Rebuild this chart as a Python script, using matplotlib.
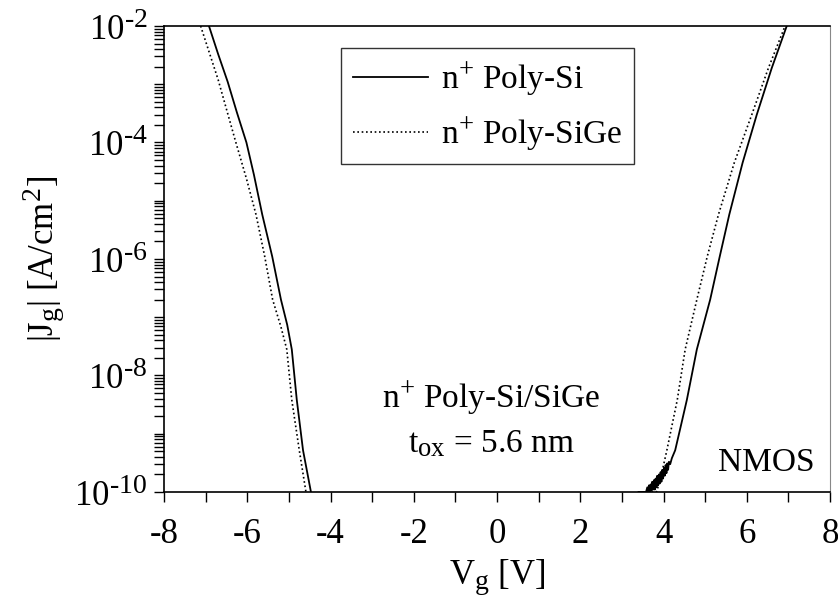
import math
import matplotlib
matplotlib.use('Agg')
import matplotlib.pyplot as plt
import matplotlib._mathtext as mathtext_impl
from matplotlib.ticker import LogLocator, FixedLocator, FuncFormatter, NullFormatter

plt.rcParams['font.family'] = 'Liberation Serif'
plt.rcParams['mathtext.fontset'] = 'custom'
plt.rcParams['mathtext.rm'] = 'Liberation Serif'
plt.rcParams['mathtext.it'] = 'Liberation Serif:italic'
plt.rcParams['mathtext.default'] = 'rm'
# larger super/subscripts than the mathtext default
mathtext_impl.SHRINK_FACTOR = 0.8

# gate voltage [V] and gate current density [A/cm^2]
# n+ poly-Si gate, negative bias branch
vg_si_neg = [-6.92, -6.70, -6.47, -6.25, -6.02, -5.84, -5.64, -5.40, -5.19, -5.04,
             -4.93, -4.81, -4.66, -4.47]
jg_si_neg = [1e-2, 3.3e-3, 1.1e-3, 3.3e-4, 1.0e-4, 2.8e-5, 5.8e-6, 1.1e-6, 2.0e-7,
             7.4e-8, 2.8e-8, 3.8e-9, 5.2e-10, 1e-10]
# n+ poly-Si gate, positive bias branch (noise floor near 1e-10)
vg_si_pos = [3.40, 3.58, 3.61, 3.63, 3.65, 3.67, 3.69, 3.71, 3.73, 3.75, 3.77, 3.79,
             3.81, 3.83, 3.85, 3.87, 3.89, 3.91, 3.93, 3.95, 3.97, 3.99, 4.01, 4.03,
             4.05, 4.07, 4.09, 4.11, 4.13, 4.16, 4.20, 4.28, 4.42, 4.56, 4.80, 5.12,
             5.35, 5.58, 5.90, 6.24, 6.60, 6.96]
jg_si_pos = [1e-10, 1e-10, 1.2e-10, 1e-10, 1.3e-10, 1e-10, 1.35e-10, 1.05e-10, 1.5e-10,
             1.1e-10, 1.6e-10, 1.1e-10, 1.7e-10, 1.2e-10, 1.9e-10, 1.3e-10, 2.0e-10,
             1.4e-10, 2.2e-10, 1.5e-10, 2.4e-10, 1.7e-10, 2.6e-10, 1.9e-10, 2.9e-10,
             2.1e-10, 3.1e-10, 2.4e-10, 3.3e-10, 3.0e-10, 3.8e-10, 5.2e-10, 1.4e-9,
             3.8e-9, 2.8e-8, 2.0e-7, 1.1e-6, 5.8e-6, 4.5e-5, 3.0e-4, 1.9e-3, 1e-2]
# n+ poly-SiGe gate
vg_sige_neg = [-7.12, -6.70, -6.29, -6.02, -5.79, -5.58, -5.39, -5.19, -5.05, -4.93,
               -4.75, -4.59]
jg_sige_neg = [1e-2, 1.2e-3, 1.1e-4, 2.4e-5, 5.8e-6, 1.1e-6, 2.0e-7, 6.8e-8, 2.8e-8,
               3.8e-9, 5.2e-10, 1e-10]
vg_sige_pos = [3.40, 3.83, 3.92, 4.08, 4.33, 4.52, 4.80, 5.05, 5.32, 5.70, 6.12, 6.52,
               6.92]
jg_sige_pos = [1e-10, 1e-10, 1.6e-10, 5.2e-10, 3.8e-9, 2.8e-8, 2.0e-7, 1.1e-6, 5.8e-6,
               4.5e-5, 3.0e-4, 1.9e-3, 1e-2]

x_ticks = [-8, -6, -4, -2, 0, 2, 4, 6, 8]

fig = plt.figure(figsize=(8.38, 6.07), dpi=100)
ax = fig.add_axes([0.1957, 0.1895, 0.7948, 0.7677])

dot = (0, (1.0, 1.6))
ax.plot(vg_sige_neg, jg_sige_neg, color='black', lw=1.2, ls=dot,
        label=r'n$^{+}$ Poly-SiGe')
ax.plot(vg_sige_pos, jg_sige_pos, color='black', lw=1.2, ls=dot)
ax.plot(vg_si_neg, jg_si_neg, color='black', lw=1.3, label=r'n$^{+}$ Poly-Si')
ax.plot(vg_si_pos, jg_si_pos, color='black', lw=1.3)

ax.set_yscale('log')
ax.set_xlim(-8, 8)
ax.set_ylim(1e-10, 1e-2)

ax.set_xticks(x_ticks)
ax.xaxis.set_minor_locator(FixedLocator(range(-7, 8, 2)))
ax.set_xticklabels([f'{v}' for v in x_ticks])

ax.yaxis.set_major_locator(LogLocator(base=10, numticks=20))
ax.yaxis.set_minor_locator(LogLocator(base=10, subs=range(2, 10), numticks=20))


def exp_label(y, pos):
    e = int(round(math.log10(y)))
    if e % 2:
        return ''
    return r'10$^{\text{-}%d}$' % (-e)


ax.yaxis.set_major_formatter(FuncFormatter(exp_label))
ax.yaxis.set_minor_formatter(NullFormatter())

ax.tick_params(which='both', direction='out', length=7, width=1.0,
               labelsize=25, top=False, right=False, pad=5)
ax.tick_params(axis='x', pad=12)

for s in ['left', 'bottom', 'top']:
    ax.spines[s].set_linewidth(1.2)
ax.spines['right'].set_color('#888888')
ax.spines['right'].set_linewidth(0.8)

ax.set_xlabel(r'V$_{\mathrm{g}}$ [V]', fontsize=25, labelpad=4)
ax.set_ylabel(r'|J$_{\mathrm{g}}$| [A/cm$^{2}$]', fontsize=25, labelpad=6)

handles, labels = ax.get_legend_handles_labels()
leg = ax.legend(handles[::-1], labels[::-1], loc='upper left',
                bbox_to_anchor=(0.266, 0.953), fontsize=24,
                frameon=True, fancybox=False, handlelength=2.25, handletextpad=0.4,
                borderpad=0.35, labelspacing=0.5, borderaxespad=0)
leg.get_frame().set_edgecolor('black')
leg.get_frame().set_linewidth(1.0)

ax.text(0.491, 0.180, r'n$^{+}$ Poly-Si/SiGe', transform=ax.transAxes,
        ha='center', va='baseline', fontsize=24)
ax.text(0.491, 0.086, r't$_{\mathrm{ox}}$ = 5.6 nm', transform=ax.transAxes,
        ha='center', va='baseline', fontsize=24)
ax.text(0.904, 0.044, 'NMOS', transform=ax.transAxes,
        ha='center', va='baseline', fontsize=24)

fig.savefig('out.png', dpi=100)
